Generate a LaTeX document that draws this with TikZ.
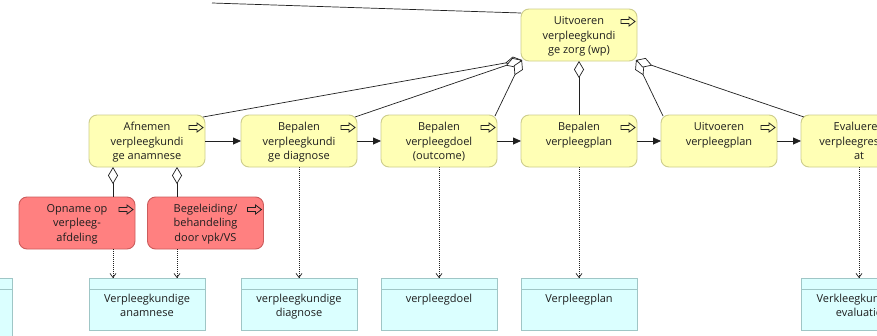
\documentclass[tikz,border=0pt]{standalone}
\usepackage{fontspec}
\setmainfont{Open Sans}
\usetikzlibrary{arrows.meta,calc}

\definecolor{procfill}{HTML}{FFFFB5}
\definecolor{procline}{HTML}{CDCD8C}
\definecolor{hotfill}{HTML}{FF8080}
\definecolor{hotline}{HTML}{CC5C5C}
\definecolor{datafill}{HTML}{DBFFFF}
\definecolor{dataline}{HTML}{9FC6C6}
\definecolor{txt}{HTML}{1E1E1E}
\definecolor{wire}{HTML}{202020}

% text block inside a 52pt high box, first baseline at #1 below the top
\newcommand\boxtxt[2]{\parbox[c][52pt][t]{114pt}{\centering\rule{0pt}{#1}#2}}
% small hollow arrow marking a process
\newcommand\procicon[1]{%
  \draw[line width=0.8pt, wire, line join=miter]
    ($(#1.north east)+(-16,10.5)$) -- ++(8,0) -- ++(0,-2.5) -- ++(6,4.5)
    -- ++(-6,4.5) -- ++(0,-2.5) -- ++(-8,0) -- cycle;}

\tikzset{
  box/.style={rectangle, inner sep=0pt, outer sep=0pt, minimum width=116pt,
    minimum height=52pt, line width=0.9pt, text=txt,
    font=\fontsize{11}{14.5}\selectfont},
  proc/.style={box, rounded corners=8pt, draw=procline, fill=procfill},
  hot/.style={box, rounded corners=8pt, draw=hotline, fill=hotfill},
  dataobj/.style={box, draw=dataline, fill=datafill},
  agg/.style={draw=wire, line width=0.7pt,
    arrows={Diamond[length=17pt,width=10pt,fill=white,line width=0.7pt]-}},
  trig/.style={draw=wire, line width=0.8pt,
    arrows={-Triangle[length=8pt,width=7pt]}},
  acc/.style={draw=wire, line width=0.7pt, dash pattern=on 1pt off 1pt,
    arrows={-Straight Barb[length=4pt,width=6pt]}},
}

\begin{document}
\begin{tikzpicture}[x=1pt, y=-1pt]
  \fill[white] (0,0) rectangle (877,335);
  \useasboundingbox (0,0) rectangle (877,335);

  % parent process
  \node[proc] (T) at (579,35) {\boxtxt{15.5pt}{Uitvoeren\\verpleegkundi\\ge zorg (wp)}};

  % process steps
  \node[proc] (A) at (147,141) {\boxtxt{15.5pt}{Afnemen\\verpleegkundi\\ge anamnese}};
  \node[proc] (B) at (299,141) {\boxtxt{15.5pt}{Bepalen\\verpleegkundi\\ge diagnose}};
  \node[proc] (C) at (439,141) {\boxtxt{15.5pt}{Bepalen\\verpleegdoel\\(outcome)}};
  \node[proc] (D) at (579,141) {\boxtxt{15.5pt}{Bepalen\\verpleegplan}};
  \node[proc] (E) at (719,141) {\boxtxt{15.5pt}{Uitvoeren\\verpleegplan}};
  \node[proc] (F) at (859,141) {\boxtxt{15.5pt}{Evalueren\\verpleegresulta\\at}};

  % sub-processes of the intake
  \node[hot] (O) at (77,223) {\boxtxt{15pt}{Opname op\\verpleeg-\\afdeling}};
  \node[hot] (R) at (205.5,223) {\boxtxt{15pt}{Begeleiding/\\behandeling\\door vpk/VS}};

  % data objects
  \node[dataobj, minimum height=72pt] (d0) at (-46,314) {};
  \node[dataobj] (d1) at (147,304) {\boxtxt{24pt}{Verpleegkundige\\anamnese}};
  \node[dataobj] (d2) at (299,304) {\boxtxt{24pt}{verpleegkundige\\diagnose}};
  \node[dataobj] (d3) at (439,304) {\boxtxt{24pt}{verpleegdoel}};
  \node[dataobj] (d4) at (579,304) {\boxtxt{24pt}{Verpleegplan}};
  \node[dataobj] (d5) at (859,304) {\boxtxt{24pt}{Verkleegkundige\\evaluatie}};
  \foreach \d in {d0,d1,d2,d3,d4,d5}
    \draw[dataline, line width=0.9pt] ($(\d.north west)+(0,11)$) -- ($(\d.north east)+(0,11)$);

  % process icons
  \foreach \p in {T,A,B,C,D,E,F,O,R} \procicon{\p};

  % connection leaving towards the top
  \coordinate (up) at (212,3);
  \draw[wire, line width=0.7pt] ($(T.north west)+(0,4)$) -- (up);

  % composition of the parent process
  \draw[agg] ($(T.south west)+(1,-1)$) -- ($(A.north east)+(-2,2)$);
  \draw[agg] ($(T.south west)+(1,-1)$) -- ($(B.north east)+(-2,2)$);
  \draw[agg] ($(T.south west)+(1,-1)$) -- ($(C.north east)+(-2,1)$);
  \draw[agg] (T.south) -- (D.north);
  \draw[agg] ($(T.south east)+(-1,-1)$) -- ($(E.north west)+(2,1)$);
  \draw[agg] ($(T.south east)+(-1,-1)$) -- ($(F.north west)+(3,2)$);

  % composition of the intake
  \coordinate (xo) at (113,0);
  \coordinate (xb) at (177,0);
  \draw[agg] (A.south -| xo) -- (O.north -| xo);
  \draw[agg] (A.south -| xb) -- (R.north -| xb);

  % triggers between steps
  \draw[trig] (A.east) -- (B.west);
  \draw[trig] (B.east) -- (C.west);
  \draw[trig] (C.east) -- (D.west);
  \draw[trig] (D.east) -- (E.west);
  \draw[trig] (E.east) -- (F.west);

  % access to data objects
  \draw[acc] (O.south -| xo) -- (d1.north -| xo);
  \draw[acc] (R.south -| xb) -- (d1.north -| xb);
  \draw[acc] (B.south) -- (d2.north);
  \draw[acc] (C.south) -- (d3.north);
  \draw[acc] (D.south) -- (d4.north);
  \draw[acc] (F.south) -- (d5.north);
\end{tikzpicture}
\end{document}
